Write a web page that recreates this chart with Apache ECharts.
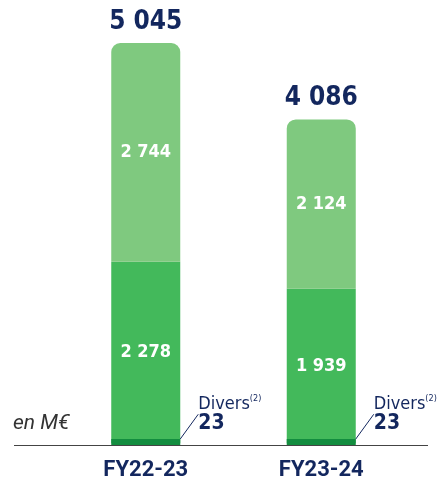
<!DOCTYPE html>
<html><head><meta charset="utf-8">
<script src="https://cdn.jsdelivr.net/npm/echarts@6/dist/echarts.min.js"></script>
<style>html,body{margin:0;padding:0;background:#fff}#c{width:441px;height:485px}</style>
</head><body><div id="c"></div>
<script>
const categories = ['FY22-23', 'FY23-24'];
const divers = [23, 23];
const middle = [2278, 1939];
const upper = [2744, 2124];
const totals = [5045, 4086];

const NAVY = '#13275e';
const COND = '"Liberation Sans Narrow","DejaVu Sans Condensed",sans-serif';
function fmt(v){ return String(v).replace(/\B(?=(\d{3})+(?!\d))/g, ' '); }

const chart = echarts.init(document.getElementById('c'));
chart.setOption({
  animation: false,
  grid: { left: 58, right: 32, top: 43, bottom: 40 },
  xAxis: {
    type: 'category', data: categories,
    axisLine: { show: false }, axisTick: { show: false },
    axisLabel: { color: NAVY, fontFamily: 'Roboto', fontWeight: 'bold', fontSize: 22, margin: 14 }
  },
  yAxis: { type: 'value', min: 0, max: v => v.max, show: false, splitLine: { show: false } },
  graphic: [
    { type: 'line', shape: { x1: 14, y1: 445.5, x2: 428, y2: 445.5 }, style: { stroke: '#444', lineWidth: 1 } },
    { type: 'text', left: 13, top: 413, style: { text: 'en M€', fill: '#333', fontFamily: 'Roboto', fontStyle: 'italic', fontSize: 21 } }
  ],
  series: [
    {
      type: 'bar', stack: 's', data: divers, barWidth: 69, barMinHeight: 6, z: 3, itemStyle: { color: '#138d3f' },
      label: {
        show: true, position: 'right', distance: 0,
        formatter: p => '{d|Divers}{s|(2)}\n{v|' + p.value + '}',
        rich: {
          d: { color: NAVY, fontFamily: COND, fontSize: 18, lineHeight: 20 },
          s: { color: NAVY, fontFamily: COND, fontSize: 9, verticalAlign: 'top', padding: [0, 0, 9, 0], lineHeight: 20 },
          v: { color: NAVY, fontFamily: COND, fontWeight: 'bold', fontSize: 21, lineHeight: 20 }
        }
      },
      labelLayout: { dx: 18, dy: -28 },
      labelLine: { show: true, lineStyle: { color: NAVY, width: 1 } }
    },
    {
      type: 'bar', stack: 's', data: middle, barWidth: 69, itemStyle: { color: '#43b95b' },
      label: { show: true, position: 'inside', color: '#fff', fontFamily: COND, fontWeight: 'bold', fontSize: 18, formatter: p => fmt(p.value) }
    },
    {
      type: 'bar', stack: 's', data: upper, barWidth: 69, itemStyle: { color: '#7fc97f', borderRadius: [9, 9, 0, 0] },
      label: { show: true, position: 'inside', color: '#fff', fontFamily: COND, fontWeight: 'bold', fontSize: 18, formatter: p => fmt(p.value) }
    },
    {
      type: 'bar', stack: 'tot', data: totals, barWidth: 69, barGap: '-100%', z: 0,
      itemStyle: { color: 'rgba(0,0,0,0)' },
      label: { show: true, position: 'top', distance: 8, color: NAVY, fontFamily: COND, fontWeight: 'bold', fontSize: 26, formatter: p => fmt(p.value) }
    }
  ]
});
</script></body></html>
